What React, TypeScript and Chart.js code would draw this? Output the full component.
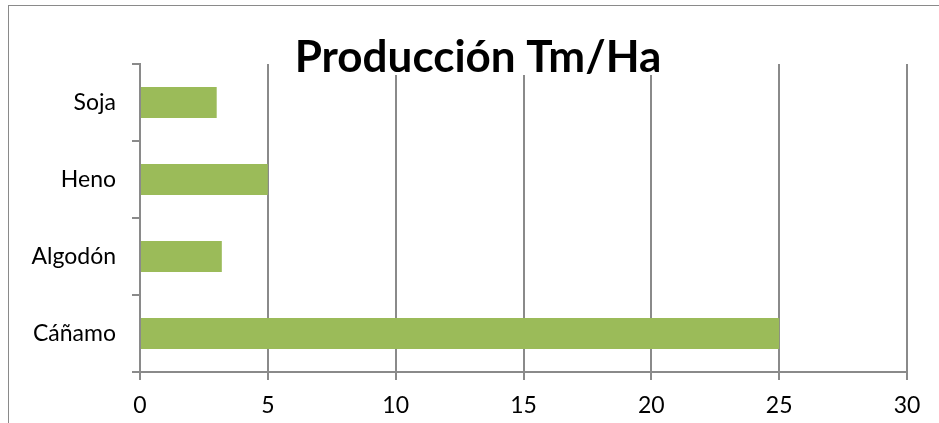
import React, { useEffect, useRef } from "react";
import { Chart, registerables } from "chart.js";

Chart.register(...registerables);

const chartTitle = "Producción Tm/Ha";
const categories = ["Soja", "Heno", "Algodón", "Cáñamo"];
const values = [3, 5, 3.2, 25];
const xMin = 0;
const xMax = 30;
const xStep = 5;

const FONT = "Lato, 'Open Sans', sans-serif";
const GRID = "#8a8a8a";
const BAR = "#9BBB59";

export default function App() {
  const ref = useRef<HTMLCanvasElement | null>(null);
  useEffect(() => {
    if (!ref.current) return;
    const titlePlugin = {
      id: "overlayTitle",
      afterDraw(chart: any) {
        const ctx = chart.ctx;
        ctx.save();
        ctx.font = `bold 44px ${FONT}`;
        const cx = 478;
        const base = 72;
        const w = ctx.measureText(chartTitle).width;
        ctx.fillStyle = "#fff";
        ctx.fillRect(cx - w / 2 - 2, base - 36, w + 4, 39);
        ctx.fillStyle = "#000";
        ctx.textAlign = "center";
        ctx.textBaseline = "alphabetic";
        ctx.fillText(chartTitle, cx, base);
        ctx.restore();
      },
    };
    const chart = new Chart(ref.current, {
      type: "bar",
      data: {
        labels: categories,
        datasets: [
          {
            data: values,
            backgroundColor: BAR,
            borderWidth: 0,
            barPercentage: 0.4,
            categoryPercentage: 1,
          },
        ],
      },
      options: {
        indexAxis: "y",
        responsive: false,
        animation: false,
        layout: { padding: { top: 64, right: 32, left: 0, bottom: 0 } },
        plugins: { legend: { display: false }, tooltip: { enabled: false }, title: { display: false } },
        scales: {
          x: {
            min: xMin,
            max: xMax,
            ticks: { stepSize: xStep, color: "#000", font: { family: FONT, size: 23 }, padding: 12 },
            grid: { color: GRID, lineWidth: 2, tickLength: 8, drawTicks: true },
            border: { color: GRID, width: 2 },
            afterFit: (s: any) => {
              s.height = 51;
            },
          },
          y: {
            ticks: { color: "#000", font: { family: FONT, size: 23 }, padding: 16 },
            grid: { color: GRID, lineWidth: 2, drawOnChartArea: false, tickLength: 8, offset: true },
            border: { color: GRID, width: 2 },
            afterFit: (s: any) => {
              s.width = 140;
            },
          },
        },
      },
      plugins: [titlePlugin],
    });
    return () => chart.destroy();
  }, []);
  return (
    <div style={{ position: "absolute", left: 0, top: 0, width: 939, height: 423, overflow: "hidden", background: "#fff" }}>
      <div
        style={{
          position: "absolute",
          left: 8,
          top: 5,
          width: 940,
          height: 430,
          border: "1px solid #8a8a8a",
          boxSizing: "border-box",
        }}
      />
      <canvas ref={ref} width={939} height={423} style={{ position: "absolute", left: 0, top: 0 }} />
    </div>
  );
}
